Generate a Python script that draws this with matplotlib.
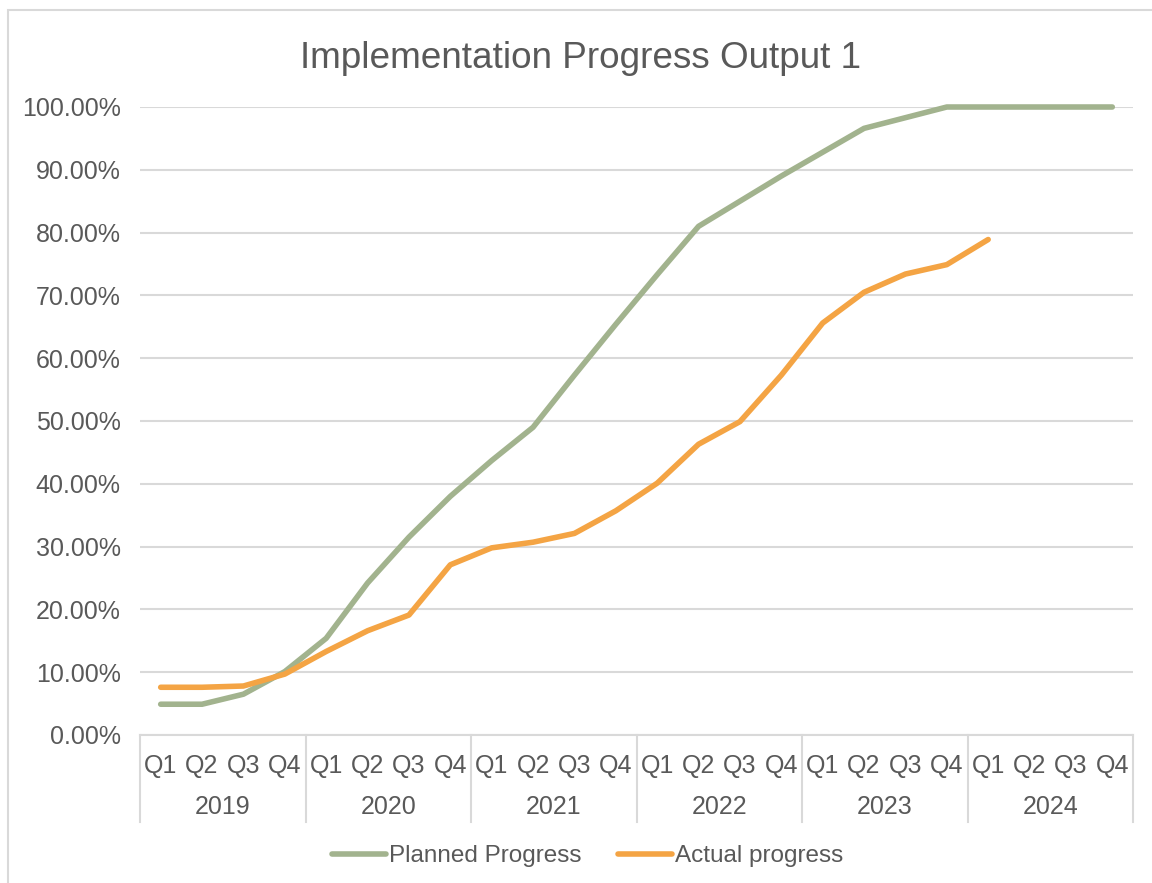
import matplotlib
matplotlib.use("Agg")
import matplotlib.pyplot as plt
from matplotlib.patches import Rectangle
from matplotlib.ticker import FuncFormatter

years = ["2019", "2020", "2021", "2022", "2023", "2024"]
quarters = ["Q1", "Q2", "Q3", "Q4"]
planned = [0.049, 0.049, 0.065, 0.101, 0.154, 0.242, 0.315, 0.380,
           0.437, 0.490, 0.573, 0.654, 0.733, 0.810, 0.850, 0.890,
           0.928, 0.966, 0.983, 1.000, 1.000, 1.000, 1.000, 1.000]
actual = [0.076, 0.076, 0.078, 0.097, 0.133, 0.166, 0.191, 0.271,
          0.298, 0.307, 0.321, 0.357, 0.401, 0.463, 0.499, 0.573,
          0.656, 0.705, 0.734, 0.749, 0.789]

plt.rcParams['font.family'] = ['Liberation Sans', 'DejaVu Sans']
TXT = '#595959'
GRID = '#D9D9D9'
GREEN = '#A2B38E'
ORANGE = '#F4A444'

W, H = 1152, 883
fig = plt.figure(figsize=(W / 100, H / 100), dpi=100)
fig.patches.append(Rectangle((8 / W, -0.1), 1.2, 1 - 10 / H + 0.1,
                             transform=fig.transFigure, facecolor='white',
                             edgecolor=GRID, linewidth=1.5, zorder=-5))

ax = fig.add_axes([140 / W, 1 - 735 / H, (1133 - 140) / W, (735 - 107) / H])
ax.set_facecolor('none')

labels = [q for y in years for q in quarters]
x = list(range(len(labels)))

ax.plot(x[:len(planned)], planned, color=GREEN, lw=4,
        solid_capstyle='round', solid_joinstyle='round', clip_on=False,
        label='Planned Progress', zorder=3)
ax.plot(x[:len(actual)], actual, color=ORANGE, lw=4,
        solid_capstyle='round', solid_joinstyle='round', clip_on=False,
        label='Actual progress', zorder=4)

ax.set_xlim(-0.5, len(labels) - 0.5)
ax.set_ylim(0, 1)
ax.set_yticks([i / 10 for i in range(11)])
ax.yaxis.set_major_formatter(FuncFormatter(lambda v, p: f"{v * 100:.2f}%"))
ax.grid(axis='y', color=GRID, lw=1.5)
ax.set_axisbelow(True)
for s in ['top', 'right', 'left']:
    ax.spines[s].set_visible(False)
ax.spines['bottom'].set_color(GRID)
ax.spines['bottom'].set_linewidth(1.5)

ax.set_xticks(x)
ax.set_xticklabels(labels)
ax.tick_params(axis='x', length=0, pad=14, labelsize=18, labelcolor=TXT)
ax.tick_params(axis='y', length=0, pad=14, labelsize=18, labelcolor=TXT)

axh = 735 - 107
sep_bottom = -(822 - 735) / axh
trans = ax.get_xaxis_transform()
for i in range(len(years) + 1):
    xs = i * 4 - 0.5
    ax.plot([xs, xs], [0, sep_bottom], transform=trans, color=GRID,
            lw=1.5, clip_on=False)
for i, yr in enumerate(years):
    ax.text(i * 4 + 1.5, -(807 - 735) / axh, yr, transform=trans,
            ha='center', va='center', fontsize=18, color=TXT)

fig.text(581 / W, 1 - 58 / H,
         'Implementation Progress Output 1', ha='center', va='center',
         fontsize=26.6, color=TXT)

leg = fig.legend(loc='center', bbox_to_anchor=(588 / W, 1 - 856 / H),
                 ncol=2, frameon=False, fontsize=17.5, handlelength=2.2,
                 handletextpad=0.15, columnspacing=1.5, labelcolor=TXT)

fig.savefig('out.png', dpi=100)
